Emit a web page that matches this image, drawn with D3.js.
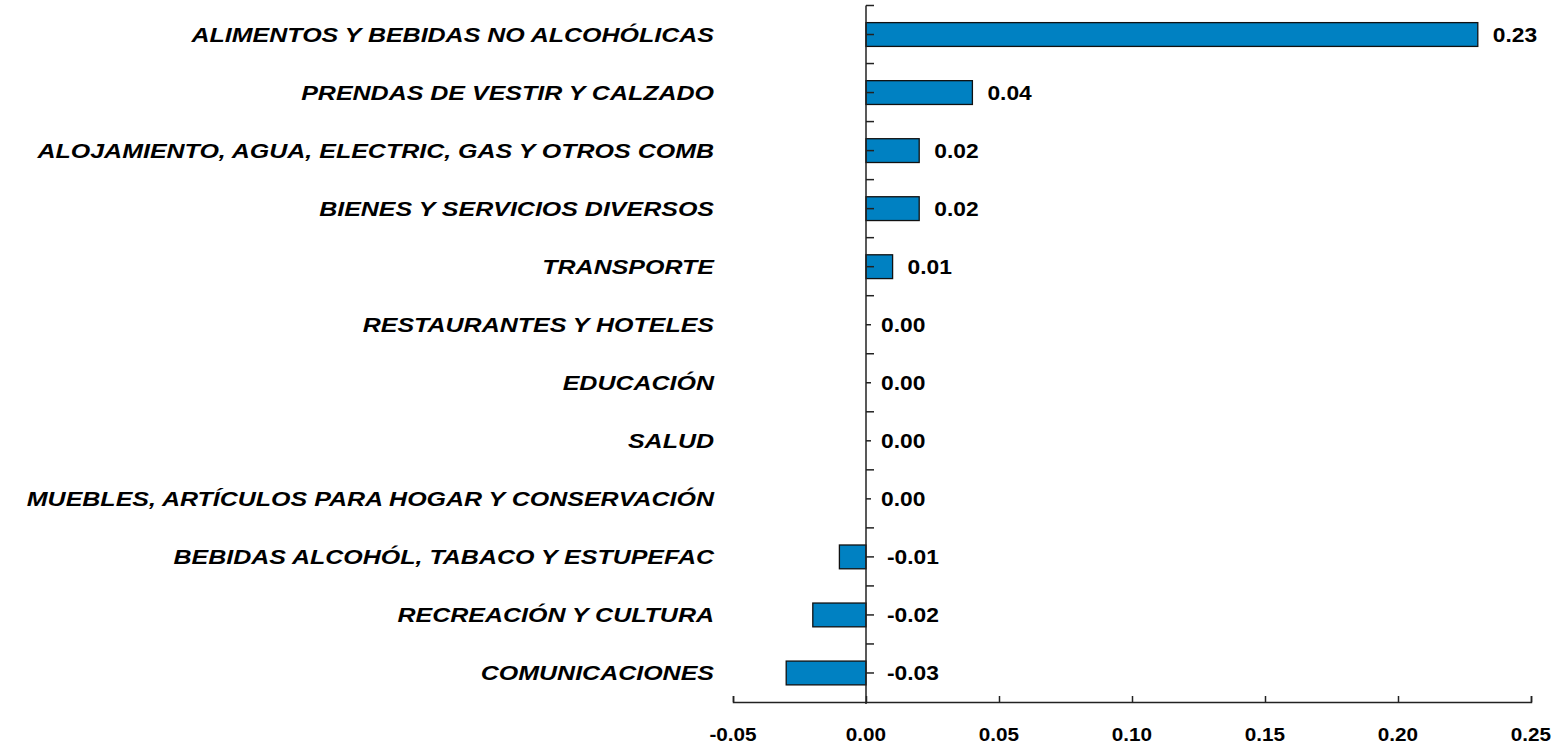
<!DOCTYPE html>
<html>
<head>
<meta charset="utf-8">
<script src="https://cdn.jsdelivr.net/npm/d3@7"></script>
<style>
  body { margin: 0; background: #fff; }
  text { font-family: "Liberation Sans", Arial, sans-serif; font-weight: bold; fill: #000; }
</style>
</head>
<body>
<svg id="chart" width="1565" height="744"></svg>
<script>
// categories top to bottom
var categories = [
  "ALIMENTOS Y BEBIDAS NO ALCOHÓLICAS",
  "PRENDAS DE VESTIR Y CALZADO",
  "ALOJAMIENTO, AGUA, ELECTRIC, GAS Y OTROS COMB",
  "BIENES Y SERVICIOS DIVERSOS",
  "TRANSPORTE",
  "RESTAURANTES Y HOTELES",
  "EDUCACIÓN",
  "SALUD",
  "MUEBLES, ARTÍCULOS PARA HOGAR Y CONSERVACIÓN",
  "BEBIDAS ALCOHÓL, TABACO Y ESTUPEFAC",
  "RECREACIÓN Y CULTURA",
  "COMUNICACIONES"
];
var values = [0.23, 0.04, 0.02, 0.02, 0.01, 0.00, 0.00, 0.00, 0.00, -0.01, -0.02, -0.03];
var xTicks = [-0.05, 0.00, 0.05, 0.10, 0.15, 0.20, 0.25];

function fmt(d) { return d.toFixed(2); }

function main() {
    var svg = d3.select("#chart");

    var xScale = d3.scaleLinear().domain([-0.05, 0.25]).range([733, 1531]);
    var yScale = d3.scaleBand().domain(categories).range([5.5, 702]);
    var bw = yScale.bandwidth();
    var barH = bw * 0.41;
    var x0 = xScale(0);

    // bars
    svg.selectAll(".bar")
        .data(values)
        .enter().append("rect")
        .attr("class", "bar")
        .attr("x", function(d) { return Math.min(xScale(d), x0); })
        .attr("y", function(d, i) { return yScale(categories[i]) + (bw - barH) / 2; })
        .attr("width", function(d) { return Math.abs(xScale(d) - x0); })
        .attr("height", barH)
        .attr("fill", "#0081C2")
        .attr("stroke", "#111")
        .attr("stroke-width", 1.3);

    // y axis line + ticks (centres and boundaries)
    svg.append("line")
        .attr("x1", x0).attr("x2", x0)
        .attr("y1", 5.5).attr("y2", 704)
        .attr("stroke", "#222").attr("stroke-width", 1.5);
    var yTickPos = [];
    categories.forEach(function(c) {
        yTickPos.push(yScale(c));
        yTickPos.push(yScale(c) + bw / 2);
    });
    svg.selectAll(".ytick")
        .data(yTickPos)
        .enter().append("line")
        .attr("x1", x0).attr("x2", x0 + 8)
        .attr("y1", function(d) { return d; })
        .attr("y2", function(d) { return d; })
        .attr("stroke", "#222").attr("stroke-width", 1.5);

    // x axis
    var xAxis = svg.append("g")
        .attr("transform", "translate(0,702)")
        .call(d3.axisTop(xScale).tickValues(xTicks).tickSize(6).tickFormat(""));
    xAxis.select(".domain").attr("stroke", "#222").attr("stroke-width", 1.5);
    xAxis.selectAll(".tick line").attr("stroke", "#222").attr("stroke-width", 1.5);

    svg.selectAll(".xlabel")
        .data(xTicks)
        .enter().append("text")
        .attr("class", "xlabel")
        .attr("text-anchor", "middle")
        .attr("transform", function(d) { return "translate(" + xScale(d) + ",741) scale(1.15,1)"; })
        .style("font-size", "18px")
        .text(fmt);

    // category labels
    svg.selectAll(".cat")
        .data(categories)
        .enter().append("text")
        .attr("class", "cat")
        .attr("text-anchor", "end")
        .attr("transform", function(d) { return "translate(714," + (yScale(d) + bw / 2 + 7.5) + ") scale(1.19,1)"; })
        .style("font-size", "21px")
        .style("font-style", "italic")
        .text(function(d) { return d; });

    // value labels
    var labels = svg.selectAll(".val")
        .data(values)
        .enter().append("g")
        .attr("class", "val")
        .attr("transform", function(d, i) {
            var lx = d >= 0 ? xScale(d) + 15 : x0 + 21;
            return "translate(" + lx + "," + (yScale(categories[i]) + bw / 2 + 7) + ")";
        });
    labels.append("rect")
        .attr("x", -10).attr("y", -24)
        .attr("width", 66).attr("height", 33)
        .attr("fill", "#fff");
    labels.append("text")
        .attr("transform", "scale(1.14,1)")
        .style("font-size", "20px")
        .text(fmt);
}
main();
</script>
</body>
</html>
